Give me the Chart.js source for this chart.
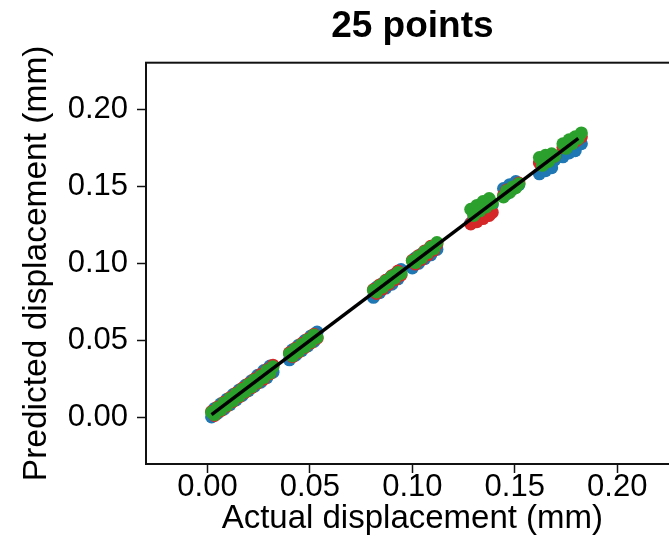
<!DOCTYPE html>
<html><head><meta charset="utf-8">
<script src="https://cdn.jsdelivr.net/npm/chart.js@4/dist/chart.umd.min.js"></script>
<style>html,body{margin:0;padding:0;background:#fff;overflow:hidden;width:669px;height:555px}
#wrap{position:absolute;left:0;top:0;width:700px;height:555px}</style>
</head><body><div id="wrap"><canvas id="c" width="700" height="555"></canvas></div>
<script>
// Actual displacement (x), shared by the three model predictions
const actual = [
  0.0020,0.0035,0.0050,0.0065,0.0080,0.0095,0.0110,0.0125,0.0140,0.0155,0.0170,0.0185,0.0200,0.0215,0.0230,0.0245,0.0260,0.0275,0.0290,0.0305,0.0320,
  0.0400,0.0415,0.0430,0.0445,0.0460,0.0475,0.0490,0.0505,0.0520,0.0535,
  0.0810,0.0825,0.0840,0.0855,0.0870,0.0885,0.0900,0.0915,0.0930,0.0945,
  0.1000,0.1015,0.1030,0.1045,0.1060,0.1075,0.1090,0.1105,0.1120,
  0.1285,0.1300,0.1315,0.1330,0.1345,0.1360,0.1375,0.1390,
  0.1445,0.1460,0.1475,0.1490,0.1505,0.1520,
  0.1620,0.1635,0.1650,0.1665,0.1680,0.1695,
  0.1735,0.1750,0.1765,0.1780,0.1795,0.1810,0.1825
];
const predBlue = [
  0.0005,0.0060,0.0030,0.0090,0.0055,0.0120,0.0085,0.0150,0.0115,0.0180,0.0145,0.0210,0.0175,0.0240,0.0205,0.0275,0.0230,0.0305,0.0260,0.0335,0.0295,
  0.0375,0.0440,0.0405,0.0470,0.0435,0.0500,0.0465,0.0530,0.0495,0.0555,
  0.0780,0.0845,0.0810,0.0870,0.0840,0.0900,0.0865,0.0930,0.0900,0.0960,
  0.0970,0.1035,0.1000,0.1060,0.1030,0.1085,0.1055,0.1110,0.1090,
  0.1260,0.1320,0.1280,0.1345,0.1315,0.1375,0.1345,0.1380,
  0.1485,0.1450,0.1510,0.1480,0.1530,0.1510,
  0.1580,0.1620,0.1600,0.1650,0.1620,0.1670,
  0.1690,0.1735,0.1715,0.1745,0.1730,0.1770,0.1775
];
const predRed = [
  0.0040,0.0015,0.0070,0.0045,0.0100,0.0075,0.0130,0.0105,0.0160,0.0135,0.0190,0.0165,0.0220,0.0195,0.0250,0.0225,0.0280,0.0250,0.0310,0.0285,0.0340,
  0.0420,0.0395,0.0450,0.0425,0.0480,0.0455,0.0510,0.0485,0.0540,0.0515,
  0.0830,0.0805,0.0860,0.0835,0.0890,0.0865,0.0920,0.0895,0.0950,0.0925,
  0.1020,0.0995,0.1050,0.1025,0.1080,0.1055,0.1110,0.1085,0.1125,
  0.1255,0.1290,0.1270,0.1305,0.1290,0.1320,0.1310,0.1330,
  0.1440,0.1475,0.1465,0.1490,0.1495,0.1520,
  0.1650,0.1645,0.1675,0.1665,0.1695,0.1695,
  0.1750,0.1750,0.1770,0.1780,0.1790,0.1805,0.1820
];
const predGreen = [
  0.0035,0.0020,0.0065,0.0050,0.0095,0.0080,0.0125,0.0110,0.0155,0.0140,0.0185,0.0170,0.0215,0.0200,0.0245,0.0230,0.0270,0.0260,0.0305,0.0290,0.0330,
  0.0415,0.0400,0.0445,0.0430,0.0475,0.0460,0.0505,0.0490,0.0535,0.0520,
  0.0825,0.0815,0.0855,0.0845,0.0885,0.0875,0.0915,0.0905,0.0940,0.0935,
  0.1015,0.1005,0.1045,0.1035,0.1075,0.1070,0.1105,0.1095,0.1135,
  0.1350,0.1310,0.1375,0.1340,0.1400,0.1365,0.1420,0.1390,
  0.1430,0.1470,0.1460,0.1495,0.1490,0.1515,
  0.1685,0.1635,0.1700,0.1660,0.1710,0.1695,
  0.1775,0.1745,0.1800,0.1775,0.1820,0.1810,0.1845
];
const refLine = [0.002, 0.181];
const xTicks = [0.00, 0.05, 0.10, 0.15, 0.20];
const yTicks = [0.00, 0.05, 0.10, 0.15, 0.20];

const pts = ys => actual.map((x, i) => ({x: x, y: ys[i]}));
const FONT = "'Liberation Sans', Arial, Helvetica, sans-serif";

const frame = {
  id: 'frame',
  afterDraw(chart) {
    const {ctx, chartArea: a} = chart;
    ctx.save();
    ctx.strokeStyle = '#111';
    ctx.lineWidth = 2;
    ctx.strokeRect(a.left, a.top, a.right - a.left, a.bottom - a.top);
    ctx.restore();
  }
};

const scatterDs = (ys, color) => ({
  data: pts(ys), backgroundColor: color, borderColor: color,
  pointRadius: 6.5, pointHoverRadius: 6.5, borderWidth: 0
});

new Chart(document.getElementById('c'), {
  type: 'scatter',
  data: {
    datasets: [
      {type: 'line', data: refLine.map(v => ({x: v, y: v})), borderColor: '#000',
       borderWidth: 3.5, pointRadius: 0, showLine: true, fill: false},
      scatterDs(predGreen, '#2ca02c'),
      scatterDs(predRed, '#d62728'),
      scatterDs(predBlue, '#1f77b4')
    ]
  },
  options: {
    responsive: false, animation: false, devicePixelRatio: 1,
    layout: {padding: {left: 0, right: 21.3, top: 0, bottom: 0}},
    plugins: {
      legend: {display: false}, tooltip: {enabled: false},
      title: {display: true, text: '25 points', fullSize: false, color: '#000',
        font: {family: FONT, size: 37, weight: 'bold'}, padding: {top: 4.5, bottom: 13.8}}
    },
    scales: {
      x: {
        type: 'linear', min: -0.03, max: 0.23,
        afterBuildTicks: s => { s.ticks = xTicks.map(v => ({value: v})); },
        afterFit: s => { s.height = 91; },
        grid: {display: true, drawOnChartArea: false, drawTicks: true, tickLength: 9, tickWidth: 1.5, tickColor: '#111'},
        border: {display: false},
        ticks: {font: {family: FONT, size: 31}, color: '#000', padding: -4, maxRotation: 0, autoSkip: false,
          callback: v => Number(v).toFixed(2)},
        title: {display: true, text: 'Actual displacement (mm)', color: '#000',
          font: {family: FONT, size: 33}, padding: {top: 0, bottom: 16.5}}
      },
      y: {
        type: 'linear', min: -0.03, max: 0.23,
        afterBuildTicks: s => { s.ticks = yTicks.map(v => ({value: v})); },
        afterFit: s => { s.width = 146; },
        grid: {display: true, drawOnChartArea: false, drawTicks: true, tickLength: 9, tickWidth: 1.5, tickColor: '#111'},
        border: {display: false},
        ticks: {font: {family: FONT, size: 31}, color: '#000', padding: 9, autoSkip: false,
          callback: v => Number(v).toFixed(2)},
        title: {display: true, text: 'Predicted displacement (mm)', color: '#000',
          font: {family: FONT, size: 33.5}, padding: {top: 17, bottom: 0}}
      }
    }
  },
  plugins: [frame]
});
</script></body></html>
